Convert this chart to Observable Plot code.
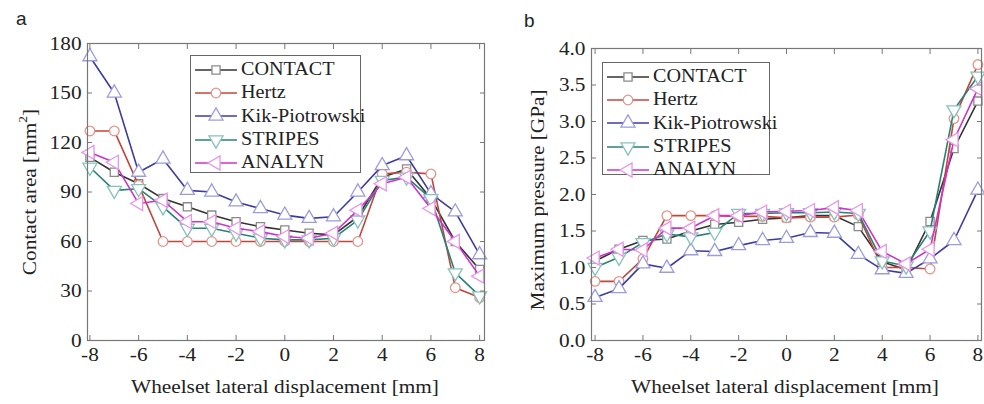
<!DOCTYPE html>
<html>
<head>
<meta charset="utf-8">
<script src="https://cdn.jsdelivr.net/npm/d3@7"></script>
<script src="https://cdn.jsdelivr.net/npm/@observablehq/plot@0.6"></script>
<style>
  html, body { margin: 0; padding: 0; background: #fff; }
  #wrap { position: relative; width: 984px; height: 404px; overflow: hidden; font-family: "Liberation Serif", "Times New Roman", serif; color: #222; }
  .panel { position: absolute; top: 0; }
  .lbl { position: absolute; white-space: nowrap; font-size: 19px; line-height: 1; }
  .sx { display: inline-block; transform: scaleX(1.12); transform-origin: center; }
  .tag { position: absolute; font-family: "Liberation Sans", Arial, sans-serif; font-size: 19px; line-height: 1; }
  .legend { position: absolute; background: #fff; border: 1px solid #666; box-sizing: border-box; }
  .legend .row { display: flex; align-items: center; height: 23.3px; }
  .legend .row span { font-size: 18px; display: inline-block; transform: scaleX(1.12); transform-origin: left center; }
</style>
</head>
<body>
<div id="wrap"></div>
<script>
// ---------- data ----------
const displacement = [-8, -7, -6, -5, -4, -3, -2, -1, 0, 1, 2, 3, 4, 5, 6, 7, 8];
const seriesNames = ["CONTACT", "Hertz", "Kik-Piotrowski", "STRIPES", "ANALYN"];

// Panel a: contact area [mm^2]
const areaCONTACT = [111, 102, 95, 86, 81, 76, 72, 69, 67, 65, 64, 75, 99, 104, 86, 60, 43];
const areaHertz   = [127, 127, 94, 60, 60, 60, 60, 60, 60, 60, 60, 60, 101, 102, 101, 32, 26];
const areaKik     = [172, 150, 102, 110, 91, 90, 84, 80, 76, 74, 75, 90, 106, 112, 89, 78, 52];
const areaSTRIPES = [105, 91, 92, 81, 68, 68, 65, 62, 61, 61, 62, 73, 97, 99, 86, 41, 27];
const areaANALYN  = [114, 108, 83, 85, 72, 72, 68, 66, 63, 62, 65, 79, 95, 99, 80, 60, 39];

// Panel b: maximum pressure [GPa]
const presCONTACT = [1.09, 1.25, 1.37, 1.39, 1.50, 1.59, 1.62, 1.66, 1.68, 1.71, 1.71, 1.56, 1.08, 0.97, 1.63, 2.63, 3.28];
const presHertz   = [0.81, 0.81, 1.12, 1.71, 1.71, 1.71, 1.70, 1.70, 1.68, 1.69, 1.69, 1.72, 1.00, 1.00, 0.98, 3.04, 3.78];
const presKik     = [0.59, 0.71, 1.05, 0.99, 1.23, 1.22, 1.30, 1.37, 1.40, 1.48, 1.47, 1.18, 0.97, 0.92, 1.12, 1.37, 2.06];
const presSTRIPES = [1.00, 1.14, 1.34, 1.46, 1.42, 1.48, 1.74, 1.74, 1.75, 1.75, 1.76, 1.74, 1.09, 1.02, 1.50, 3.16, 3.62];
const presANALYN  = [1.13, 1.25, 1.24, 1.54, 1.54, 1.71, 1.71, 1.76, 1.77, 1.78, 1.82, 1.78, 1.22, 1.05, 1.25, 2.75, 3.45];

const xTicks = [-8, -6, -4, -2, 0, 2, 4, 6, 8];
const areaTicks = [0, 30, 60, 90, 120, 150, 180];
const presTicks = [0, 0.5, 1.0, 1.5, 2.0, 2.5, 3.0, 3.5, 4.0];

// ---------- styles ----------
const lineColor = ["#333333", "#c0463c", "#3d3d9e", "#2a8077", "#cc33cc"];
const markColor = ["#8a8a8a", "#e3958c", "#9c9cdc", "#86c2ba", "#e896e8"];

const sqrt3 = Math.sqrt(3);
const triUp = {draw(c, s) { const y = -Math.sqrt(s / (sqrt3 * 3)); c.moveTo(0, y * 2); c.lineTo(-sqrt3 * y, -y); c.lineTo(sqrt3 * y, -y); c.closePath(); }};
const triDown = {draw(c, s) { const y = -Math.sqrt(s / (sqrt3 * 3)); c.moveTo(0, -y * 2); c.lineTo(-sqrt3 * y, y); c.lineTo(sqrt3 * y, y); c.closePath(); }};
const triLeft = {draw(c, s) { const y = -Math.sqrt(s / (sqrt3 * 3)); c.moveTo(y * 2, 0); c.lineTo(-y, -sqrt3 * y); c.lineTo(-y, sqrt3 * y); c.closePath(); }};
const symbols = [d3.symbolSquare, d3.symbolCircle, triUp, triDown, triLeft];
const symR = [4.6, 4.8, 5.2, 5.2, 5.2];

function rows(arrs) {
  const out = [];
  arrs.forEach((vals, si) => vals.forEach((v, i) => out.push({series: seriesNames[si], si, x: displacement[i], y: v})));
  return out;
}
const areaData = rows([areaCONTACT, areaHertz, areaKik, areaSTRIPES, areaANALYN]);
const presData = rows([presCONTACT, presHertz, presKik, presSTRIPES, presANALYN]);

const hyphenFormat = d => (d < 0 ? "-" + (-d) : String(d));

function panel(data, {xDomain, yDomain, yTicks, yFormat, margins}) {
  const marks = [];
  seriesNames.forEach((name, si) => {
    const d = data.filter(r => r.si === si);
    marks.push(Plot.line(d, {x: "x", y: "y", stroke: lineColor[si], strokeWidth: 1.6}));
    marks.push(Plot.dot(d, {x: "x", y: "y", symbol: () => symbols[si], r: symR[si], stroke: markColor[si], fill: "white", strokeWidth: 1.3}));
  });
  marks.push(Plot.frame({stroke: "#777", strokeWidth: 1.2}));
  // inward ticks on all sides
  marks.push(Plot.axisX(xTicks, {anchor: "bottom", tickSize: -5, fill: "none", stroke: "#777", label: null}));
  marks.push(Plot.axisX(xTicks, {anchor: "top", tickSize: -5, fill: "none", stroke: "#777", label: null}));
  marks.push(Plot.axisY(yTicks, {anchor: "left", tickSize: -5, fill: "none", stroke: "#777", label: null}));
  marks.push(Plot.axisY(yTicks, {anchor: "right", tickSize: -5, fill: "none", stroke: "#777", label: null}));
  // labels
  marks.push(Plot.axisX(xTicks, {anchor: "bottom", tickSize: 0, tickPadding: 7, stroke: "none", fill: "#222", label: null, fontSize: 19, tickFormat: hyphenFormat}));
  marks.push(Plot.axisY(yTicks, {anchor: "left", tickSize: 0, tickPadding: 6, stroke: "none", fill: "#222", label: null, fontSize: 19, tickFormat: yFormat}));
  return Plot.plot({
    width: 492, height: 404,
    ...margins,
    style: {fontFamily: "Liberation Serif, Times New Roman, serif", fontSize: "19px", background: "transparent", color: "#222"},
    x: {domain: xDomain},
    y: {domain: yDomain},
    marks
  });
}

const wrap = document.getElementById("wrap");

const pa = panel(areaData, {xDomain: [-8.1, 8.2], yDomain: [0, 180], yTicks: areaTicks, yFormat: d3.format("d"),
  margins: {marginLeft: 87, marginRight: 8, marginTop: 43, marginBottom: 64}});
pa.classList.add("panel"); pa.style.left = "0px";
wrap.appendChild(pa);

const pb = panel(presData, {xDomain: [-8.15, 8.15], yDomain: [0, 4], yTicks: presTicks, yFormat: d3.format(".1f"),
  margins: {marginLeft: 99, marginRight: 3, marginTop: 48, marginBottom: 64}});
pb.classList.add("panel"); pb.style.left = "492px";
wrap.appendChild(pb);

// stretch svg texts horizontally (reference typography is wide)
document.querySelectorAll("#wrap svg text").forEach(t => {
  const L = t.getComputedTextLength();
  if (L > 0) { t.setAttribute("textLength", (L * 1.12).toFixed(2)); t.setAttribute("lengthAdjust", "spacingAndGlyphs"); }
});

// axis titles, tags
function addLabel(html, cls, css) {
  const d = document.createElement("div");
  d.className = cls; d.innerHTML = html;
  Object.assign(d.style, css);
  wrap.appendChild(d);
  return d;
}
addLabel("a", "tag", {left: "16px", top: "9px"});
addLabel("b", "tag", {left: "524px", top: "11px"});

addLabel('<span class="sx">Wheelset lateral displacement [mm]</span>', "lbl", {left: "285px", top: "377px", transform: "translateX(-50%)"});
addLabel('<span class="sx">Wheelset lateral displacement [mm]</span>', "lbl", {left: "785px", top: "377px", transform: "translateX(-50%)"});
addLabel('<span class="sx">Contact area [mm<sup style="font-size:12px;vertical-align:9px">2</sup>]</span>', "lbl",
  {left: "28px", top: "192px", transform: "translate(-50%,-50%) rotate(-90deg)"});
addLabel('<span class="sx">Maximum pressure [GPa]</span>', "lbl",
  {left: "537px", top: "200px", transform: "translate(-50%,-50%) rotate(-90deg)"});

// legends
function legend(left, top, width, height) {
  const lg = document.createElement("div");
  lg.className = "legend";
  Object.assign(lg.style, {left: left + "px", top: top + "px", width: width + "px", height: height + "px", paddingTop: "2px"});
  seriesNames.forEach((name, si) => {
    const row = document.createElement("div");
    row.className = "row";
    const svg = d3.create("svg").attr("width", 50).attr("height", 20).style("flex", "none");
    svg.append("line").attr("x1", 4).attr("x2", 46).attr("y1", 10).attr("y2", 10).attr("stroke", lineColor[si]).attr("stroke-width", 1.6);
    svg.append("path").attr("transform", "translate(25,10)")
      .attr("d", d3.symbol(symbols[si], Math.PI * symR[si] * symR[si])())
      .attr("fill", "white").attr("stroke", markColor[si]).attr("stroke-width", 1.3);
    row.appendChild(svg.node());
    const sp = document.createElement("span");
    sp.textContent = name;
    row.appendChild(sp);
    lg.appendChild(row);
  });
  wrap.appendChild(lg);
}
legend(190, 55, 171, 118);
legend(602, 62, 168, 113);
</script>
</body>
</html>
